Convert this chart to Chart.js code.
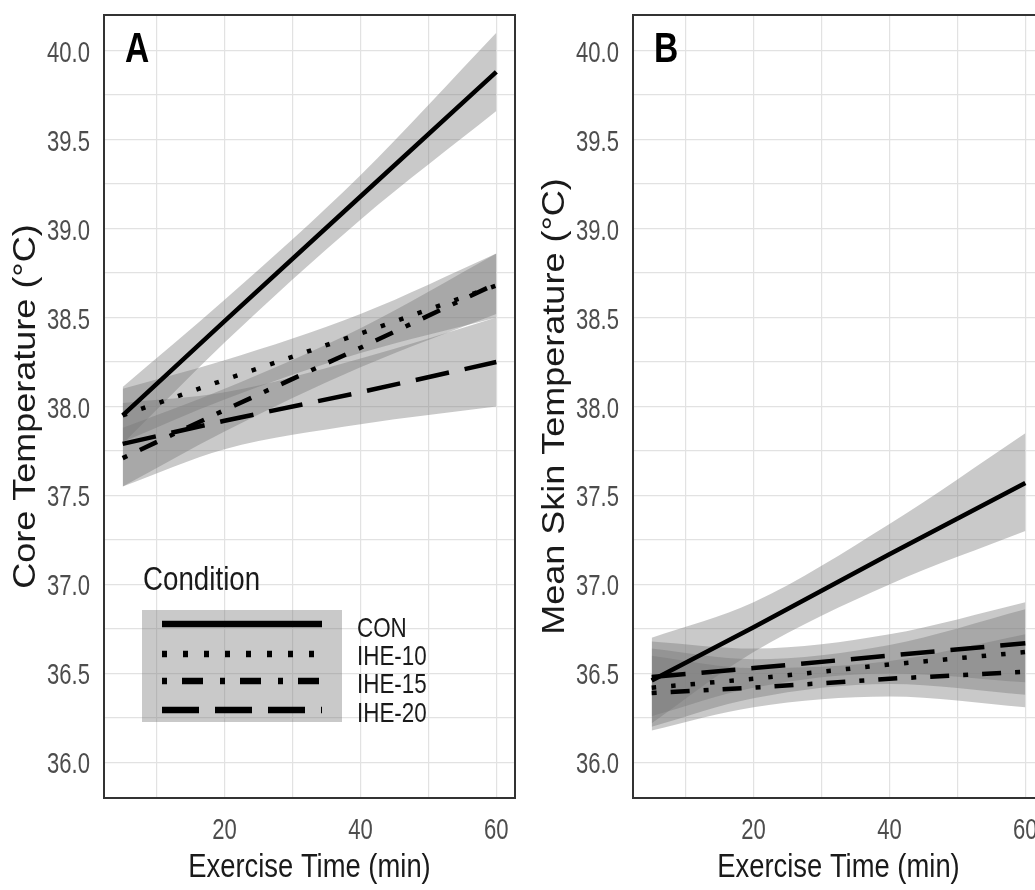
<!DOCTYPE html>
<html><head><meta charset="utf-8">
<script src="https://cdn.jsdelivr.net/npm/chart.js@4.4.1/dist/chart.umd.min.js"></script>
<style>
html,body{margin:0;padding:0;background:#fff;}
body{width:1035px;height:890px;overflow:hidden;position:relative;}
#wa{position:absolute;left:0;top:0;width:525px;height:890px;}
#wb{position:absolute;left:520px;top:0;width:534px;height:890px;}
</style></head><body>
<div id="wa"><canvas id="ca" width="525" height="890"></canvas></div>
<div id="wb"><canvas id="cb" width="534" height="890"></canvas></div>
<script>
// ---------- data ----------
const timeMin = [5, 20, 40, 60];
const conditions = ['CON', 'IHE-10', 'IHE-15', 'IHE-20'];
const xTickLabels = [20, 40, 60];
const yTickLabels = [36.0, 36.5, 37.0, 37.5, 38.0, 38.5, 39.0, 39.5, 40.0];

// Panel A: core temperature (fit, lower CI, upper CI)
const coreCON      = [37.95, 38.48, 39.18, 39.88];
const coreCONLow   = [37.79, 38.36, 39.05, 39.66];
const coreCONHigh  = [38.11, 38.60, 39.30, 40.10];
const coreIHE10     = [37.95, 38.15, 38.41, 38.68];
const coreIHE10Low  = [37.80, 38.04, 38.30, 38.50];
const coreIHE10High = [38.10, 38.26, 38.52, 38.86];
const coreIHE15     = [37.71, 37.98, 38.33, 38.69];
const coreIHE15Low  = [37.55, 37.86, 38.22, 38.52];
const coreIHE15High = [37.88, 38.10, 38.44, 38.86];
const coreIHE20     = [37.79, 37.92, 38.08, 38.25];
const coreIHE20Low  = [37.55, 37.76, 37.90, 38.00];
const coreIHE20High = [38.02, 38.08, 38.27, 38.50];

// Panel B: mean skin temperature
const skinCON      = [36.46, 36.76, 37.17, 37.57];
const skinCONLow   = [36.22, 36.62, 37.00, 37.30];
const skinCONHigh  = [36.70, 36.90, 37.34, 37.85];
const skinIHE10     = [36.42, 36.47, 36.55, 36.62];
const skinIHE10Low  = [36.20, 36.36, 36.44, 36.38];
const skinIHE10High = [36.64, 36.58, 36.66, 36.86];
const skinIHE15     = [36.39, 36.42, 36.47, 36.51];
const skinIHE15Low  = [36.18, 36.31, 36.37, 36.31];
const skinIHE15High = [36.60, 36.53, 36.57, 36.72];
const skinIHE20     = [36.48, 36.53, 36.60, 36.67];
const skinIHE20Low  = [36.26, 36.42, 36.50, 36.45];
const skinIHE20High = [36.68, 36.64, 36.72, 36.90];

// ---------- styling ----------
const FONT = "'Liberation Sans', Arial, sans-serif";
const BAND = 'rgba(120,120,120,0.40)';
const lineDash = [[], [4.5, 15], [5, 14, 19, 14], [34, 16]];
const legendDash = [[], [5, 16], [5, 15, 21, 17], [37, 16]];

function pts(arr) { return timeMin.map((t, i) => ({x: t, y: arr[i]})); }

function buildDatasets(fits, lows, highs) {
  const ds = [];
  fits.forEach((f, i) => {
    ds.push({label: conditions[i] + ' upper', data: pts(highs[i]), fill: '+1', backgroundColor: BAND,
             borderWidth: 0, pointRadius: 0, cubicInterpolationMode: 'monotone', order: 2});
    ds.push({label: conditions[i] + ' lower', data: pts(lows[i]), fill: false,
             borderWidth: 0, pointRadius: 0, cubicInterpolationMode: 'monotone', order: 2});
  });
  fits.forEach((f, i) => {
    ds.push({label: conditions[i], data: pts(f), fill: false, borderColor: '#000', borderWidth: 4.5,
             borderDash: lineDash[i], borderCapStyle: 'butt', pointRadius: 0, order: 1});
  });
  return ds;
}

// narrow-looking text: regular face squeezed horizontally
function txt(ctx, s, x, y, size, color, align, k, weight) {
  ctx.save();
  ctx.translate(x, y);
  ctx.scale(k, 1);
  ctx.font = (weight || '') + ' ' + size + 'px ' + FONT;
  ctx.fillStyle = color;
  ctx.textAlign = align;
  ctx.textBaseline = 'alphabetic';
  ctx.fillText(s, 0, 0);
  ctx.restore();
}

function decoPlugin(letter, yTitle, withLegend) {
  return {
    id: 'deco' + letter,
    afterDraw(chart) {
      const {ctx, chartArea: a} = chart;
      const xs = chart.scales.x, ys = chart.scales.y;
      ctx.save();
      // tick labels
      xs.ticks.forEach(t => {
        if (!xTickLabels.includes(t.value)) return;
        txt(ctx, String(t.value), xs.getPixelForValue(t.value), a.bottom + 41, 29, '#4d4d4d', 'center', 0.76);
      });
      ys.ticks.forEach(t => {
        const m = yTickLabels.find(v => Math.abs(v - t.value) < 1e-6);
        if (m === undefined) return;
        txt(ctx, m.toFixed(1), a.left - 14, ys.getPixelForValue(m) + 11, 29, '#4d4d4d', 'right', 0.76);
      });
      // axis titles
      txt(ctx, 'Exercise Time (min)', (a.left + a.right) / 2, a.bottom + 79, 33, '#1a1a1a', 'center', 0.83);
      ctx.save();
      ctx.translate(a.left - 77, (a.top + a.bottom) / 2);
      ctx.rotate(-Math.PI / 2);
      ctx.scale(1, 0.85);
      ctx.font = '36px ' + FONT;
      ctx.fillStyle = '#1a1a1a';
      ctx.textAlign = 'center';
      ctx.textBaseline = 'middle';
      ctx.fillText(yTitle, 0, 0);
      ctx.restore();
      // legend
      if (withLegend) {
        const L = a.left, B = a.bottom;
        txt(ctx, 'Condition', L + 39, B - 208, 33, '#1a1a1a', 'left', 0.84);
        ctx.fillStyle = BAND;
        ctx.fillRect(L + 38, B - 188, 200, 112);
        const ly = [B - 174, B - 144, B - 117, B - 88];
        const ty = [B - 161, B - 133, B - 105, B - 76];
        conditions.forEach((c, i) => {
          ctx.beginPath();
          ctx.setLineDash(legendDash[i]);
          ctx.lineCap = 'butt';
          ctx.lineWidth = 6.5;
          ctx.strokeStyle = '#000';
          ctx.moveTo(L + 58, ly[i]);
          ctx.lineTo(L + 218, ly[i]);
          ctx.stroke();
          ctx.setLineDash([]);
          txt(ctx, c, L + 253, ty[i], 28, '#1a1a1a', 'left', 0.8);
        });
      }
      // panel border
      ctx.strokeStyle = '#333';
      ctx.lineWidth = 2;
      ctx.setLineDash([]);
      ctx.strokeRect(a.left, a.top, a.right - a.left, a.bottom - a.top);
      // panel letter
      txt(ctx, letter, a.left + 21, a.top + 47, 42, '#000', 'left', 0.8, 'bold');
      ctx.restore();
    }
  };
}

function makeChart(id, fits, lows, highs, yTitle, yAxisWidth, letter, withLegend) {
  return new Chart(document.getElementById(id), {
    type: 'line',
    data: {datasets: buildDatasets(fits, lows, highs)},
    options: {
      responsive: false,
      devicePixelRatio: 1,
      animation: false,
      layout: {padding: {top: 15, right: 10, left: 0, bottom: 0}},
      plugins: {legend: {display: false}, tooltip: {enabled: false}},
      scales: {
        x: {
          type: 'linear', min: 2.25, max: 62.75,
          border: {display: false},
          grid: {color: '#e2e2e2', lineWidth: 1.2, drawTicks: false},
          ticks: {display: false, stepSize: 10, includeBounds: false, autoSkip: false},
          afterFit(s) { s.height = 92; s.paddingLeft = 0; s.paddingRight = 0; }
        },
        y: {
          type: 'linear', min: 35.8, max: 40.2,
          border: {display: false},
          grid: {color: '#e2e2e2', lineWidth: 1.2, drawTicks: false},
          ticks: {display: false, stepSize: 0.25, includeBounds: false, autoSkip: false},
          afterFit(s) { s.width = yAxisWidth; s.paddingTop = 0; s.paddingBottom = 0; }
        }
      }
    },
    plugins: [decoPlugin(letter, yTitle, withLegend)]
  });
}

makeChart('ca',
  [coreCON, coreIHE10, coreIHE15, coreIHE20],
  [coreCONLow, coreIHE10Low, coreIHE15Low, coreIHE20Low],
  [coreCONHigh, coreIHE10High, coreIHE15High, coreIHE20High],
  'Core Temperature (°C)', 104, 'A', true);

makeChart('cb',
  [skinCON, skinIHE10, skinIHE15, skinIHE20],
  [skinCONLow, skinIHE10Low, skinIHE15Low, skinIHE20Low],
  [skinCONHigh, skinIHE10High, skinIHE15High, skinIHE20High],
  'Mean Skin Temperature (°C)', 113, 'B', false);
</script>
</body></html>
